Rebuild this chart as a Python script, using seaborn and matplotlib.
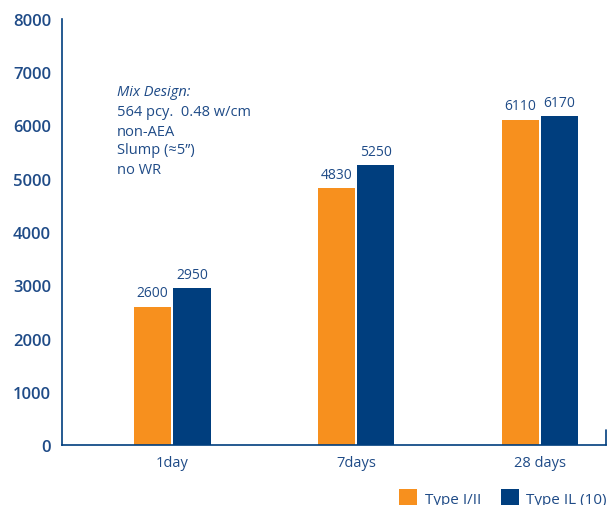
import matplotlib
matplotlib.use("Agg")
import matplotlib.pyplot as plt
import seaborn as sns
import pandas as pd
from matplotlib.patches import Patch

categories = ["1day", "7days", "28 days"]
series_names = ["Type I/II", "Type IL (10)"]
type_i_ii = [2600, 4830, 6110]
type_il = [2950, 5250, 6170]
y_ticks = [0, 1000, 2000, 3000, 4000, 5000, 6000, 7000, 8000]

ORANGE = "#F7901E"
NAVY = "#003E7E"
TEXT = "#1F4B87"

sns.set_style("white")
plt.rcParams["font.family"] = ["Open Sans", "DejaVu Sans"]

df = pd.DataFrame({
    "Age": categories * 2,
    "Series": [series_names[0]] * 3 + [series_names[1]] * 3,
    "Strength": type_i_ii + type_il,
})

fig = plt.figure(figsize=(6.08, 5.06), dpi=100)
ax = fig.add_axes([62 / 608, 60 / 506, 544 / 608, 426 / 506])

sns.barplot(data=df, x="Age", y="Strength", hue="Series", order=categories,
            hue_order=series_names, palette=[ORANGE, NAVY], width=0.43, gap=0.06,
            saturation=1, legend=False, ax=ax, edgecolor="none")

ax.set_xlim(-0.6, 2.36)
ax.set_ylim(0, 8000)
ax.set_yticks(y_ticks)
ax.set_yticklabels([str(v) for v in y_ticks], fontsize=12, color=TEXT, fontweight="semibold")
ax.tick_params(axis="y", direction="in", length=19, width=1, color=NAVY, pad=8)
ax.tick_params(axis="x", length=0, pad=7, labelsize=10.5, labelcolor=TEXT)
ax.set_xlabel("")
ax.set_ylabel("")
for s in ["top", "right"]:
    ax.spines[s].set_visible(False)
for s in ["left", "bottom"]:
    ax.spines[s].set_color(NAVY)
    ax.spines[s].set_linewidth(1.2)
ax.axvline(2.36, ymin=0, ymax=15 / 426, color=NAVY, lw=1.2, clip_on=False)

for cont in ax.containers:
    ax.bar_label(cont, labels=[f"{int(v)}" for v in cont.datavalues], padding=4.5,
                 fontsize=10, color=TEXT)

ax.text(117 / 608, 1 - 93 / 506, "Mix Design:", transform=fig.transFigure,
        fontsize=10.5, color=TEXT, style="italic", va="center")
lines = ["564 pcy.  0.48 w/cm", "non-AEA", "Slump (\u22485\u201d)", "no WR"]
for i, t in enumerate(lines):
    fig.text(117 / 608, 1 - (113 + 19 * i) / 506, t, fontsize=10.5, color=TEXT, va="center")

handles = [Patch(facecolor=ORANGE, edgecolor="none"), Patch(facecolor=NAVY, edgecolor="none")]
fig.legend(handles, series_names, loc="center left", bbox_to_anchor=(399 / 608, 1 - 499 / 506),
           ncol=2, frameon=False, fontsize=11, handlelength=1.18, handleheight=1.3,
           columnspacing=1.3, handletextpad=0.5, labelcolor=TEXT, borderaxespad=0, borderpad=0)

fig.savefig("out.png", dpi=100)
